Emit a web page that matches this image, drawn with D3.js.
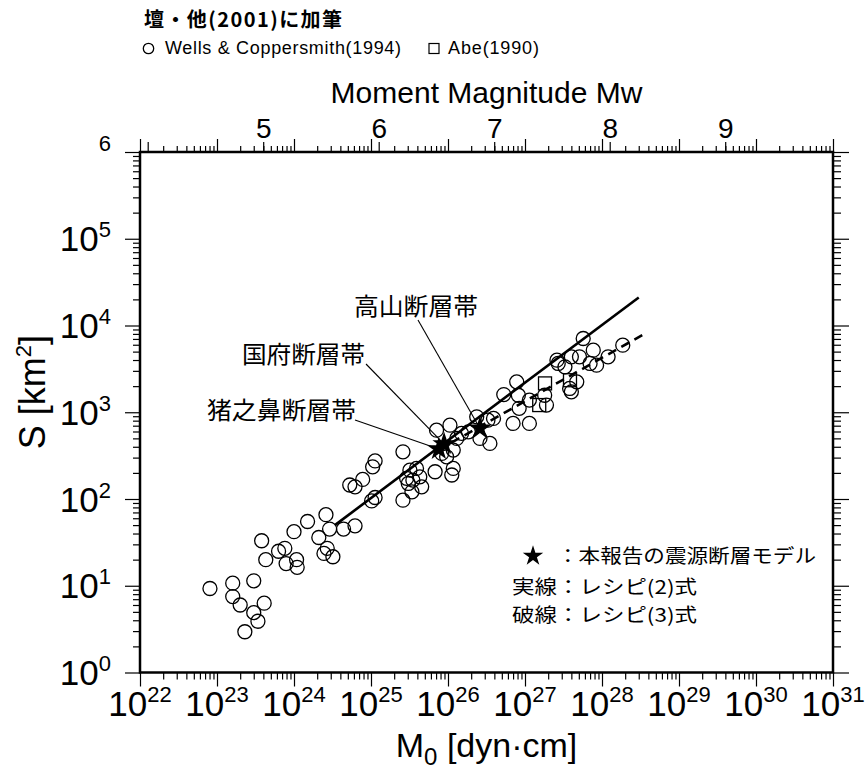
<!DOCTYPE html>
<html>
<head>
<meta charset="utf-8">
<script src="https://cdn.jsdelivr.net/npm/d3@7"></script>
<style>
  body { margin: 0; background: #fff; }
  text { font-family: "Liberation Sans", Arial, sans-serif; fill: #000; }
  .jp { font-family: "Noto Sans CJK JP", sans-serif; }
</style>
</head>
<body>
<svg id="chart" width="866" height="780"></svg>
<script>
// Wells & Coppersmith (1994): seismic moment [dyn·cm] and rupture area [km2]
const wcM0 = [8.1e22, 1.6e23, 3.0e23, 1.6e23, 2.0e23, 4.1e23, 3.0e23, 3.4e23, 2.3e23,
  3.8e23, 4.3e23, 6.3e23, 7.6e23, 7.9e23, 1.08e24, 1.1e24, 1.0e24, 1.5e24, 2.6e24,
  2.1e24, 2.9e24, 2.7e24, 2.45e24, 3.2e24, 4.4e24, 6.2e24, 5.3e24, 6.2e24, 7.8e24,
  1.05e25, 1.13e25, 1.02e25, 1.13e25, 2.6e25, 3.2e25, 3.9e25, 2.9e25, 4.3e25, 3.5e25,
  3.05e25, 2.6e25, 3.4e25, 4.55e25, 6.8e25, 1.17e26, 1.12e26, 7.1e25, 1.06e26, 8.3e25,
  1.17e26, 1.5e26, 1.84e26, 2.36e26, 3.3e26, 2.6e26, 3.5e26, 3.9e26, 5.3e26, 7.8e26,
  8.2e26, 1.14e27, 8.4e26, 7.0e26, 1.14e27, 1.9e27, 1.8e27, 4.7e27, 3.8e27, 4.0e27,
  5.7e27, 7.7e27, 5.1e27, 4.0e27, 2.6e27, 2.7e27, 3.3e27, 7.0e27, 8.5e27, 1.2e28,
  1.86e28, 9.6e25, 1.3e26];
const wcS = [9.3, 10.7, 11.4, 7.5, 6.0, 6.3, 4.9, 3.9, 2.95,
  33, 20, 25, 27, 18, 20, 16.3, 42, 55, 66,
  36, 45, 27, 23.6, 21.6, 45, 49, 145, 138, 168,
  235, 275, 95, 104, 350, 215, 225, 173, 180, 165,
  151, 97, 121, 138, 206, 225, 189, 622, 710, 335,
  366, 570, 595, 885, 811, 499, 437, 849, 1600, 2240,
  1570, 1380, 1110, 743, 743, 1210, 1570, 2240, 1880, 1720,
  7080, 5190, 4350, 4350, 3980, 3650, 3340, 3650, 3490, 4350,
  5930, 306, 499];

// Abe (1990)
const abeM0 = [1.82e27, 1.53e27, 3.84e27];
const abeS = [2150, 1210, 2340];

// source fault models of this report
const faultNames = ["猪之鼻断層帯", "国府断層帯", "高山断層帯"];
const faultM0 = [7.6e25, 8.9e25, 2.6e26];
const faultS = [376, 429, 651];

// recipe lines (end points)
const recipe2M0 = [3.4e24, 3.0e28];
const recipe2S = [50, 21000];
const recipe3M0 = [7.5e25, 3.8e28];
const recipe3S = [367, 8270];

// axes
const xExponents = [22, 23, 24, 25, 26, 27, 28, 29, 30, 31];
const yExponents = [0, 1, 2, 3, 4, 5, 6];
const mwTicks = [4, 5, 6, 7, 8, 9];
const mwLabels = [5, 6, 7, 8, 9];

const svg = d3.select("#chart");
const plotL = 140, plotR = 833, plotT = 152, plotB = 672.5;

const x = d3.scaleLog().domain([1e22, 1e31]).range([plotL, plotR]);
const y = d3.scaleLog().domain([1, 1e6]).range([plotB, plotT]);
// Mw = (log10 M0 - 16.1) / 1.5
const mw = d3.scaleLinear().domain([4, 10])
  .range([x(Math.pow(10, 1.5 * 4 + 16.1)), x(Math.pow(10, 1.5 * 10 + 16.1))]);

function minorTicks(lo, hi) {
  const out = [];
  for (let e = lo; e < hi; e++) {
    for (let k = 2; k <= 9; k++) out.push(k * Math.pow(10, e));
  }
  return out;
}
const xMajor = xExponents.map(e => Math.pow(10, e));
const yMajor = yExponents.map(e => Math.pow(10, e));
const xMinor = minorTicks(22, 31);
const yMinor = minorTicks(0, 6);

function tickAxis(axis, vals, size, tx, ty) {
  const g = svg.append("g")
    .attr("transform", `translate(${tx},${ty})`)
    .call(axis.tickValues(vals).tickSize(size).tickFormat(""));
  g.select(".domain").remove();
  g.selectAll("line").attr("stroke", "#000").attr("stroke-width", 1.2);
  return g;
}

tickAxis(d3.axisBottom(x), xMajor, 14, 0, plotB);
tickAxis(d3.axisBottom(x), xMinor, 7, 0, plotB);
tickAxis(d3.axisTop(x), xMajor, 13, 0, plotT);
tickAxis(d3.axisTop(x), xMinor, 6, 0, plotT);
tickAxis(d3.axisLeft(y), yMajor, 15, plotL, 0);
tickAxis(d3.axisLeft(y), yMinor, 7, plotL, 0);
tickAxis(d3.axisRight(y), yMajor, 16, plotR, 0);
tickAxis(d3.axisRight(y), yMinor, 8, plotR, 0);

// Moment magnitude axis on top
const mwAxis = svg.append("g")
  .attr("transform", `translate(0,${plotT})`)
  .call(d3.axisTop(mw).tickValues(mwTicks).tickSize(10).tickPadding(4)
    .tickFormat(d => mwLabels.includes(d) ? d : ""));
mwAxis.select(".domain").remove();
mwAxis.selectAll("line").attr("stroke", "#000").attr("stroke-width", 1.2);
mwAxis.selectAll("text")
  .attr("font-size", 28)
  .attr("font-family", "Liberation Sans, Arial, sans-serif")
  .attr("fill", "#000");

// bottom tick labels 10^n
const xLab = svg.append("g").selectAll("text")
  .data(xExponents).enter().append("text")
  .attr("x", d => x(Math.pow(10, d)))
  .attr("y", 716)
  .attr("text-anchor", "middle")
  .attr("font-size", 35);
xLab.append("tspan").text("10");
xLab.append("tspan").attr("font-size", 22).attr("dy", -14).text(d => d);

// left tick labels 10^n (top one shows exponent only)
const yLab = svg.append("g").selectAll("text")
  .data(yExponents).enter().append("text")
  .attr("x", 111)
  .attr("y", d => y(Math.pow(10, d)) + 12.5)
  .attr("text-anchor", "end")
  .attr("font-size", 35);
yLab.filter(d => d < 6).append("tspan").text("10");
yLab.append("tspan").attr("font-size", 22)
  .attr("dy", -14).text(d => d);

// axis titles
svg.append("text")
  .attr("x", (plotL + plotR) / 2).attr("y", 103)
  .attr("text-anchor", "middle").attr("font-size", 30)
  .text("Moment Magnitude Mw");

const xTitle = svg.append("text")
  .attr("x", (plotL + plotR) / 2).attr("y", 757)
  .attr("text-anchor", "middle").attr("font-size", 34);
xTitle.append("tspan").text("M");
xTitle.append("tspan").attr("font-size", 24).attr("dy", 8).text("0");
xTitle.append("tspan").attr("dy", -8).text(" [dyn·cm]");

const yTitle = svg.append("text")
  .attr("transform", "translate(45,392) rotate(-90)")
  .attr("text-anchor", "middle").attr("font-size", 36);
yTitle.append("tspan").text("S [km");
yTitle.append("tspan").attr("font-size", 22).attr("dy", -14).text("2");
yTitle.append("tspan").attr("dy", 14).text("]");

// data: circles
const wc = wcM0.map((m, i) => ({ m0: m, s: wcS[i] }));
svg.append("g").selectAll("circle")
  .data(wc).enter().append("circle")
  .attr("cx", d => x(d.m0))
  .attr("cy", d => y(d.s))
  .attr("r", 7)
  .attr("fill", "none")
  .attr("stroke", "#000")
  .attr("stroke-width", 1.3);

// data: squares
const abe = abeM0.map((m, i) => ({ m0: m, s: abeS[i] }));
svg.append("g").selectAll("rect")
  .data(abe).enter().append("rect")
  .attr("x", d => x(d.m0) - 6.5)
  .attr("y", d => y(d.s) - 6.5)
  .attr("width", 13).attr("height", 13)
  .attr("fill", "none")
  .attr("stroke", "#000")
  .attr("stroke-width", 1.3);

// recipe lines
const line = d3.line().x(d => x(d[0])).y(d => y(d[1]));
svg.append("path")
  .attr("d", line(recipe2M0.map((m, i) => [m, recipe2S[i]])))
  .attr("fill", "none").attr("stroke", "#000").attr("stroke-width", 2.6);
svg.append("path")
  .attr("d", line(recipe3M0.map((m, i) => [m, recipe3S[i]])))
  .attr("fill", "none").attr("stroke", "#000").attr("stroke-width", 2.6)
  .attr("stroke-dasharray", "9,6");

// fault labels and leader lines
const labelPos = [
  { x: 207, y: 419, len: 149, lx: 355, ly: 420 },
  { x: 242, y: 363, len: 123, lx: 366, ly: 364 },
  { x: 354, y: 315, len: 124, lx: 418, ly: 320 }
];
const faults = faultNames.map((n, i) => ({ name: n, m0: faultM0[i], s: faultS[i], ...labelPos[i] }));

svg.append("g").selectAll("line")
  .data(faults).enter().append("line")
  .attr("x1", d => d.lx).attr("y1", d => d.ly)
  .attr("x2", d => x(d.m0)).attr("y2", d => y(d.s))
  .attr("stroke", "#000").attr("stroke-width", 1.1);

svg.append("g").selectAll("text")
  .data(faults).enter().append("text")
  .attr("class", "jp")
  .attr("x", d => d.x).attr("y", d => d.y)
  .attr("font-size", 24)
  .attr("textLength", d => d.len)
  .attr("lengthAdjust", "spacingAndGlyphs")
  .text(d => d.name);

const star = d3.symbol().type(d3.symbolStar).size(170);
svg.append("g").selectAll("path")
  .data(faults).enter().append("path")
  .attr("d", star)
  .attr("transform", d => `translate(${x(d.m0)},${y(d.s)})`)
  .attr("fill", "#000");

// frame
svg.append("rect")
  .attr("x", plotL).attr("y", plotT)
  .attr("width", plotR - plotL).attr("height", plotB - plotT)
  .attr("fill", "none").attr("stroke", "#000").attr("stroke-width", 2.5);

// legend in the plot
svg.append("path")
  .attr("d", d3.symbol().type(d3.symbolStar).size(130))
  .attr("transform", "translate(533,556)")
  .attr("fill", "#000");
const legendRows = [
  { x: 557, y: 563, len: 259, t: "：本報告の震源断層モデル" },
  { x: 512, y: 594, len: 185, t: "実線：レシピ(2)式" },
  { x: 512, y: 622, len: 185, t: "破線：レシピ(3)式" }
];
svg.append("g").selectAll("text")
  .data(legendRows).enter().append("text")
  .attr("class", "jp")
  .attr("x", d => d.x).attr("y", d => d.y)
  .attr("font-size", 19)
  .attr("textLength", d => d.len)
  .attr("lengthAdjust", "spacingAndGlyphs")
  .text(d => d.t);

// header
svg.append("text")
  .attr("class", "jp")
  .attr("x", 144).attr("y", 27)
  .attr("font-size", 20).attr("font-weight", "bold")
  .attr("textLength", 198).attr("lengthAdjust", "spacing")
  .text("壇・他(2001)に加筆");

svg.append("circle")
  .attr("cx", 148.5).attr("cy", 48.5).attr("r", 5.2)
  .attr("fill", "none").attr("stroke", "#000").attr("stroke-width", 1.3);
svg.append("text")
  .attr("x", 165).attr("y", 54).attr("font-size", 18)
  .attr("textLength", 236).attr("lengthAdjust", "spacing")
  .text("Wells & Coppersmith(1994)");
svg.append("rect")
  .attr("x", 429).attr("y", 43.5).attr("width", 10).attr("height", 10)
  .attr("fill", "none").attr("stroke", "#000").attr("stroke-width", 1.2);
svg.append("text")
  .attr("x", 448).attr("y", 54).attr("font-size", 18)
  .attr("textLength", 91).attr("lengthAdjust", "spacing")
  .text("Abe(1990)");
</script>
</body>
</html>
